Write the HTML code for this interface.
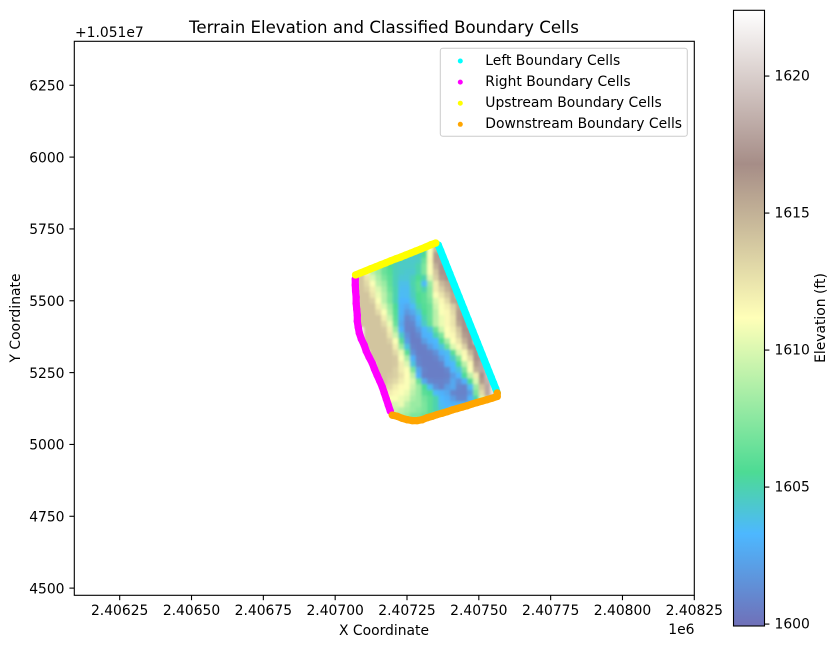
<!DOCTYPE html>
<html>
<head>
<meta charset="utf-8">
<title>Terrain Elevation and Classified Boundary Cells</title>
<style>
html,body{margin:0;padding:0;background:#fff;}
svg{display:block;}
text{font-family:"DejaVu Sans","Liberation Sans",sans-serif;fill:#000;font-size:13.89px;}
</style>
</head>
<body>
<svg id="chart" xmlns="http://www.w3.org/2000/svg" width="838" height="648" viewBox="0 0 838 648">
  <defs>
    <linearGradient id="cbar-gradient" x1="0" y1="1" x2="0" y2="0"></linearGradient>
    <clipPath id="terrain-clip"><polygon id="terrain-clip-shape" points=""></polygon></clipPath>
    <filter id="terrain-soften" x="-5%" y="-5%" width="110%" height="110%"><feGaussianBlur stdDeviation="1.3"></feGaussianBlur></filter>
  </defs>
  <text x="384" y="33" text-anchor="middle" style="font-size:16.6px">Terrain Elevation and Classified Boundary Cells</text>
  <g clip-path="url(#terrain-clip)">
    <g id="terrain" filter="url(#terrain-soften)"></g>
  </g>
  <g id="boundaries"></g>
  <rect x="74.3" y="41.3" width="620" height="554" fill="none" stroke="#000" stroke-width="1.1"></rect>
  <g id="x-axis"></g>
  <g id="y-axis"></g>
  <text x="75" y="37">+1.051e7</text>
  <text x="694.5" y="634" text-anchor="end">1e6</text>
  <text x="384" y="635" text-anchor="middle">X Coordinate</text>
  <text transform="translate(20,318) rotate(-90)" text-anchor="middle">Y Coordinate</text>
  <g>
    <rect x="440.3" y="48.3" width="247" height="88" rx="2.5" fill="#fff" fill-opacity="0.8" stroke="#ccc" stroke-width="1"></rect>
    <g id="legend-entries"></g>
  </g>
  <rect id="cbar-fill" x="733.5" y="10.3" width="31" height="615.7" fill="url(#cbar-gradient)"></rect>
  <rect x="733.5" y="10.3" width="31" height="615.7" fill="none" stroke="#000" stroke-width="1.1"></rect>
  <g id="cbar-axis"></g>
  <text transform="translate(825,318) rotate(-90)" text-anchor="middle">Elevation (ft)</text>
</svg>
<script>
// Axis ticks
const xTickValues = [2406250, 2406500, 2406750, 2407000, 2407250, 2407500, 2407750, 2408000, 2408250];
const xTickLabels = ["2.40625", "2.40650", "2.40675", "2.40700", "2.40725", "2.40750", "2.40775", "2.40800", "2.40825"];
const yTickValues = [4500, 4750, 5000, 5250, 5500, 5750, 6000, 6250];
const yTickLabels = ["4500", "4750", "5000", "5250", "5500", "5750", "6000", "6250"];
const cbarTickValues = [1600, 1605, 1610, 1615, 1620];
const cbarTickLabels = ["1600", "1605", "1610", "1615", "1620"];

// Axis limits
const xLimits = [2406092, 2408250];
const yLimits = [4475, 6403];
const elevationLimits = [1599.93, 1622.4];

// Colormap
const cmapPositions = [0, 0.15, 0.25, 0.5, 0.75, 1];
const cmapReds = [0.2, 0, 0, 1, 0.5, 1];
const cmapGreens = [0.2, 0.6, 0.8, 1, 0.36, 1];
const cmapBlues = [0.6, 1, 0.4, 0.6, 0.33, 1];
const terrainAlpha = 0.7;

// Legend
const seriesNames = ["Left Boundary Cells", "Right Boundary Cells", "Upstream Boundary Cells", "Downstream Boundary Cells"];
const seriesColors = ["#00ffff", "#ff00ff", "#ffff00", "#ffa500"];

// Boundary cells
const leftX = [2407359,2407367,2407375,2407383,2407391,2407399,2407407,2407415,2407423,2407431,2407439,2407447,2407455,2407463,2407471,2407479,2407487,2407495,2407503,2407511,2407519,2407527,2407535,2407543,2407551,2407559,2407564];
const leftY = [5694,5674,5654,5634,5614,5594,5574,5554,5534,5514,5494,5474,5454,5434,5414,5394,5374,5354,5334,5314,5294,5274,5254,5234,5214,5194,5179];
const rightX = [2407070,2407070,2407071,2407073,2407073,2407075,2407077,2407077,2407080,2407084,2407091,2407101,2407108,2407118,2407129,2407137,2407146,2407155,2407164,2407171,2407178,2407185,2407192];
const rightY = [5576,5555,5534,5513,5492,5471,5450,5429,5409,5388,5367,5346,5325,5304,5283,5262,5241,5221,5200,5179,5158,5137,5116];
const upstreamX = [2407071,2407088,2407106,2407123,2407141,2407158,2407176,2407193,2407211,2407228,2407245,2407263,2407280,2407298,2407315,2407333,2407350];
const upstreamY = [5590,5597,5604,5611,5618,5625,5632,5639,5646,5652,5659,5666,5673,5680,5687,5695,5701];
const downstreamX = [2407199,2407216,2407233,2407251,2407268,2407286,2407303,2407320,2407338,2407355,2407373,2407390,2407407,2407425,2407442,2407460,2407477,2407494,2407512,2407529,2407546,2407564,2407564];
const downstreamY = [5102,5098,5091,5086,5083,5083,5086,5093,5098,5104,5109,5114,5120,5125,5130,5135,5141,5146,5151,5156,5161,5167,5179];

// Elevation raster: 20 ft cells, first cell's west edge and north edge
const gridWest = 2407060;
const gridNorth = 5710;
const gridCell = 20;
const rowStartColumn = [12,10,8,6,4,1,0,0,0,1,1,1,1,1,1,2,2,2,2,3,3,4,4,4,5,5,5,6,6,6,6];
const elevationRows = [
[1605,1608,1614,1617],
[1604.6,1604.6,1605,1611,1614.5,1617],
[1604.6,1604.6,1604.6,1604.6,1605.5,1611,1616,1617],
[1606,1605,1604.6,1604.5,1604.4,1604.6,1606.5,1611.5,1616,1617.5],
[1608,1606.5,1605.5,1604.8,1604.5,1604.5,1604.5,1605,1607,1611,1615,1617,1617],
[1614,1611.5,1609,1608,1606.5,1605.8,1604.8,1604.5,1604.3,1604.3,1605,1607,1611,1614,1617,1617],
[1613.5,1614,1612.5,1610,1608.5,1607,1606,1604.8,1604.2,1604.2,1604.8,1605.6,1605,1610,1613.5,1616,1617],
[1613.5,1614,1613,1611,1609,1608,1606.2,1604.8,1603.8,1603.8,1605,1606,1603.5,1608,1612,1614.5,1615.5,1616],
[1613.5,1614,1613.5,1612,1610,1608.5,1606.5,1605,1603.6,1603.6,1604.8,1606,1605,1607.5,1612,1613.5,1615,1616],
[1614,1614,1612.5,1610.5,1609,1607,1605,1603.5,1603.6,1604.6,1605.6,1606,1607.5,1611,1612.5,1614,1615.5],
[1614,1614,1613.5,1611,1609,1607,1605,1603.2,1603.2,1604.2,1605.5,1606,1607,1610,1611.5,1613,1615.5,1616],
[1614,1614,1614,1612,1610,1608,1605.5,1603,1602.5,1603.5,1605,1605.8,1606.5,1609.5,1611,1612,1613.5,1615.5],
[1614,1614,1614,1613,1611,1608.5,1605.8,1603,1601.8,1602.5,1604,1605.5,1606.5,1609,1611,1611.5,1613,1616,1617],
[1614,1614,1614,1614,1612,1609.5,1606,1602.8,1601,1601.6,1603.2,1605,1606.5,1609,1610.5,1611.5,1612.5,1616,1617],
[1614,1614,1614,1614,1613,1610.5,1606.5,1602.5,1600.8,1601,1602.8,1604.5,1606.3,1609,1610.5,1611.5,1612.5,1615.5,1617],
[1614,1614,1614,1613.8,1612,1608,1603,1600.8,1600.7,1601.8,1603.2,1604,1606.5,1609.5,1611.2,1612,1614,1616.5,1617],
[1614,1614,1614,1614,1612.5,1609.5,1604.5,1601.5,1600.6,1601,1603,1603.2,1605,1607,1611,1611.5,1613.5,1616,1617],
[1614,1614,1614,1614,1613.5,1611,1606,1602,1600.6,1600.6,1602,1603,1603.3,1605.5,1608.5,1611.2,1612.5,1615,1617],
[1614,1614,1614,1614,1614,1612,1608,1604,1600.8,1600.6,1600.7,1602,1603,1604,1606.5,1610,1611.5,1613.5,1616.5,1617],
[1614,1614,1614,1614,1613,1610.5,1606,1601.5,1600.6,1600.6,1600.7,1601.5,1603,1603.6,1606,1610,1611.5,1614.5,1617],
[1614,1614,1614,1614,1613.8,1611,1608.5,1603,1600.8,1600.6,1600.6,1600.8,1602,1603.2,1604.5,1607,1611,1613,1617,1617.5],
[1614,1614,1614,1613.8,1612,1610,1604,1601,1600.6,1600.6,1600.6,1600.8,1603,1603.4,1605.5,1609,1611.5,1616,1618],
[1614,1614,1614,1613.5,1612,1611,1607,1602.5,1600.8,1600.6,1600.6,1600.6,1601,1603.2,1604,1607,1611,1615,1618,1619],
[1614,1614,1613.8,1613.5,1612.5,1611.2,1609,1603,1600.7,1600.6,1600.6,1600.6,1600.7,1602,1603.2,1605.5,1609,1612,1617,1619],
[1614,1613.5,1613,1612,1611,1610,1606.5,1602.5,1601,1600.8,1600.8,1601,1602.5,1601.5,1603,1605.5,1610,1616,1618.5,1620],
[1613.5,1613,1612,1611.3,1611,1609.5,1608,1605.5,1603.5,1601.5,1600.8,1602,1602.5,1601,1600.8,1603.5,1608,1614,1618,1621],
[1612.5,1612,1611.5,1611,1610.5,1609,1608,1606,1605.5,1603.5,1603,1602.5,1601,1600.8,1600.8,1602,1607,1613,1618,1621],
[1611,1611,1610.5,1610,1608.5,1608,1606.8,1606,1605,1603.3,1603,1602,1601,1601,1603,1605,1610,1614,1618],
[1610,1610,1610.5,1609,1608,1608,1607,1606,1605,1603.5,1603.2,1603,1603,1603,1603],
[1609.5,1609.5,1609,1608.5,1608,1607.5,1607,1606,1605,1604,1603.5],
[1609,1609,1608.5,1608,1607,1607,1606.5,1606]
];

const NS = "http://www.w3.org/2000/svg";
const PX_PER_UNIT_X = 620 / (xLimits[1] - xLimits[0]);
const PX_PER_UNIT_Y = 554 / (yLimits[1] - yLimits[0]);
function xScale(v) { return 74.3 + (v - xLimits[0]) * PX_PER_UNIT_X; }
function yScale(v) { return 595.3 - (v - yLimits[0]) * PX_PER_UNIT_Y; }
function cbarScale(v) { return 626 - (v - elevationLimits[0]) / (elevationLimits[1] - elevationLimits[0]) * 615.7; }

function blend(c) { return Math.round(255 * (c * terrainAlpha + (1 - terrainAlpha))); }
function colorAt(t) {
  t = Math.max(0, Math.min(1, t));
  let i = 0;
  while (i < cmapPositions.length - 2 && t > cmapPositions[i + 1]) i++;
  const f = (t - cmapPositions[i]) / (cmapPositions[i + 1] - cmapPositions[i]);
  const r = cmapReds[i] + (cmapReds[i + 1] - cmapReds[i]) * f;
  const g = cmapGreens[i] + (cmapGreens[i + 1] - cmapGreens[i]) * f;
  const b = cmapBlues[i] + (cmapBlues[i + 1] - cmapBlues[i]) * f;
  return "rgb(" + blend(r) + "," + blend(g) + "," + blend(b) + ")";
}
function elevationColor(v) {
  return colorAt((v - elevationLimits[0]) / (elevationLimits[1] - elevationLimits[0]));
}
function setAttrs(el, attrs) {
  for (const k in attrs) el.setAttribute(k, attrs[k]);
}

// Colorbar gradient
const gradient = document.getElementById("cbar-gradient");
cmapPositions.forEach(function (p, i) {
  const stop = document.createElementNS(NS, "stop");
  stop.setAttribute("offset", p);
  stop.setAttribute("stop-color", "rgb(" + blend(cmapReds[i]) + "," + blend(cmapGreens[i]) + "," + blend(cmapBlues[i]) + ")");
  gradient.appendChild(stop);
});

// Terrain cells
const terrain = document.getElementById("terrain");
elevationRows.forEach(function (row, r) {
  row.forEach(function (value, k) {
    const col = rowStartColumn[r] + k;
    const west = gridWest + col * gridCell;
    const north = gridNorth - r * gridCell;
    const cell = document.createElementNS(NS, "rect");
    
    
    setAttrs(cell, {
      x: xScale(west).toFixed(2),
      y: yScale(north).toFixed(2),
      width: (gridCell * PX_PER_UNIT_X + 0.5).toFixed(2),
      height: (gridCell * PX_PER_UNIT_Y + 0.5).toFixed(2),
      fill: elevationColor(value)
    });
    terrain.appendChild(cell);
  });
});

// Terrain outline follows the boundary cells
const outline = [];
upstreamX.forEach(function (x, i) { outline.push(xScale(x).toFixed(1) + "," + yScale(upstreamY[i]).toFixed(1)); });
leftX.forEach(function (x, i) { outline.push(xScale(x).toFixed(1) + "," + yScale(leftY[i]).toFixed(1)); });
for (let i = downstreamX.length - 1; i >= 0; i--) outline.push(xScale(downstreamX[i]).toFixed(1) + "," + yScale(downstreamY[i]).toFixed(1));
for (let i = rightX.length - 1; i >= 0; i--) outline.push(xScale(rightX[i]).toFixed(1) + "," + yScale(rightY[i]).toFixed(1));
document.getElementById("terrain-clip-shape").setAttribute("points", outline.join(" "));

// Boundary series: a continuous band through the cells, with a dot on each cell
const boundaryGroup = document.getElementById("boundaries");
function drawSeries(xs, ys, color) {
  const band = document.createElementNS(NS, "polyline");
  
  
  setAttrs(band, {
    points: xs.map(function (x, i) { return xScale(x).toFixed(2) + "," + yScale(ys[i]).toFixed(2); }).join(" "),
    fill: "none", stroke: color, "stroke-width": 7.2, "stroke-linecap": "round", "stroke-linejoin": "round"
  });
  boundaryGroup.appendChild(band);
  xs.forEach(function (x, i) {
    const dot = document.createElementNS(NS, "circle");
    
    
    setAttrs(dot, { cx: xScale(x).toFixed(2), cy: yScale(ys[i]).toFixed(2), r: 3.7, fill: color });
    boundaryGroup.appendChild(dot);
  });
}
drawSeries(leftX, leftY, seriesColors[0]);
drawSeries(rightX, rightY, seriesColors[1]);
drawSeries(upstreamX, upstreamY, seriesColors[2]);
drawSeries(downstreamX, downstreamY, seriesColors[3]);

// X axis
const xAxis = document.getElementById("x-axis");
xTickValues.forEach(function (v, i) {
  const px = xScale(v);
  const tick = document.createElementNS(NS, "line");
  
  
  setAttrs(tick, { x1: px, x2: px, y1: 595.3, y2: 600.2, stroke: "#000", "stroke-width": 1.1 });
  xAxis.appendChild(tick);
  const label = document.createElementNS(NS, "text");
  
  
  setAttrs(label, { x: px, y: 615, "text-anchor": "middle" });
  label.textContent = xTickLabels[i];
  xAxis.appendChild(label);
});

// Y axis
const yAxis = document.getElementById("y-axis");
yTickValues.forEach(function (v, i) {
  const py = yScale(v);
  const tick = document.createElementNS(NS, "line");
  
  
  setAttrs(tick, { x1: 69.4, x2: 74.3, y1: py, y2: py, stroke: "#000", "stroke-width": 1.1 });
  yAxis.appendChild(tick);
  const label = document.createElementNS(NS, "text");
  
  
  setAttrs(label, { x: 64.5, y: py + 5.2, "text-anchor": "end" });
  label.textContent = yTickLabels[i];
  yAxis.appendChild(label);
});

// Colorbar axis
const cbarAxis = document.getElementById("cbar-axis");
cbarTickValues.forEach(function (v, i) {
  const py = cbarScale(v);
  const tick = document.createElementNS(NS, "line");
  
  
  setAttrs(tick, { x1: 764.5, x2: 769.4, y1: py, y2: py, stroke: "#000", "stroke-width": 1.1 });
  cbarAxis.appendChild(tick);
  const label = document.createElementNS(NS, "text");
  
  
  setAttrs(label, { x: 774.5, y: py + 4.6 });
  label.textContent = cbarTickLabels[i];
  cbarAxis.appendChild(label);
});

// Legend entries
const legendEntries = document.getElementById("legend-entries");
seriesNames.forEach(function (name, i) {
  const rowY = 61 + i * 21.1;
  const marker = document.createElementNS(NS, "circle");
  
  
  setAttrs(marker, { cx: 460.3, cy: rowY, r: 2.5, fill: seriesColors[i] });
  legendEntries.appendChild(marker);
  const label = document.createElementNS(NS, "text");
  
  
  setAttrs(label, { x: 485.3, y: rowY + 3.9 });
  label.textContent = name;
  legendEntries.appendChild(label);
});
</script>
</body>
</html>
